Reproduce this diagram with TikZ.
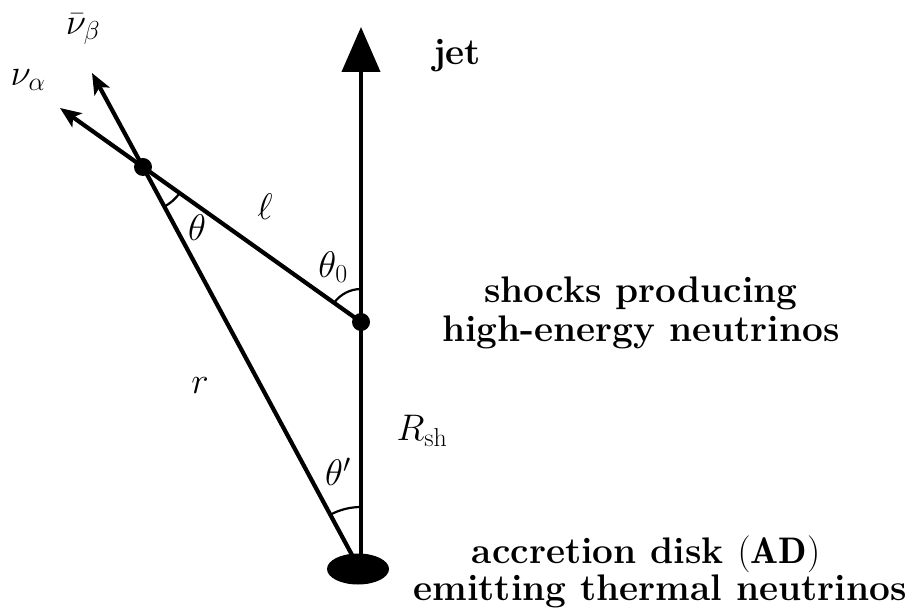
\RequirePackage{fix-cm}
\documentclass[tikz,border=0pt]{standalone}
\usepackage{fontspec}
\usetikzlibrary{arrows.meta,shapes.geometric,calc}
\begin{document}
\begin{tikzpicture}[x=1pt,y=1pt,
  ln/.style={line width=4.2pt},
  arcline/.style={line width=2.2pt},
  dot/.style={circle,fill,minimum size=18pt,inner sep=0pt},
  lbl/.style={font=\fontsize{37}{40}\selectfont, inner sep=0pt},
  txt/.style={font=\fontsize{37}{40}\selectfont\bfseries, inner sep=0pt, anchor=base}]
\useasboundingbox (0,0) rectangle (909,613);
\coordinate (S) at (361,291);
\coordinate (P) at (143,446);
\coordinate (V) at (361,41);
\coordinate (R0) at (352,58);
\coordinate (J0) at (361,58);
\coordinate (JT) at (361,586);
\coordinate (A) at (60,505);
\coordinate (B) at (92,540);
\node[ellipse,fill,minimum width=62pt,minimum height=31pt,inner sep=0pt] (AD) at (358,44) {};
\draw[ln,-{Triangle[length=45pt,width=38pt]}] (J0) -- (JT);
\draw[ln] (S) -- (P);
\draw[ln,-{Stealth[length=21pt,width=17pt,inset=5pt]}] (P) -- (A);
\draw[ln] (R0) -- (P);
\draw[ln,-{Stealth[length=21pt,width=17pt,inset=5pt]}] (P) -- (B);
\node[dot] (Sd) at (S) {};
\node[dot] (Pd) at (P) {};
\draw[arcline] ($(S)+(90:33pt)$) arc[start angle=90,end angle=144.6,radius=33pt];
\draw[arcline] ($(P)+(-35.4:45pt)$) arc[start angle=-35.4,end angle=-61.7,radius=45pt];
\draw[arcline] ($(V)+(90:65pt)$) arc[start angle=90,end angle=118.3,radius=65pt];
\node[lbl] (nb) at (83,584) {$\bar\nu_\beta$};
\node[lbl] (na) at (28,533) {$\nu_\alpha$};
\node[lbl] (ell) at (265,406) {$\ell$};
\node[lbl] (th) at (197,385) {$\theta$};
\node[lbl] (th0) at (333,346) {$\theta_0$};
\node[lbl] (thp) at (338,141) {$\theta'$};
\node[lbl] (r) at (200,227) {$r$};
\node[lbl] (Rsh) at (422,182) {$R_{\mathrm{sh}}$};
\node[txt] (jet) at (457,548) {jet};
\node[txt] (sh1) at (641,310) {shocks producing};
\node[txt] (sh2) at (641,271) {high-energy neutrinos};
\node[txt] (ad1) at (646,50) {accretion disk $(\mathbf{AD})$};
\node[txt] (ad2) at (660,13) {emitting thermal neutrinos};
\end{tikzpicture}
\end{document}
